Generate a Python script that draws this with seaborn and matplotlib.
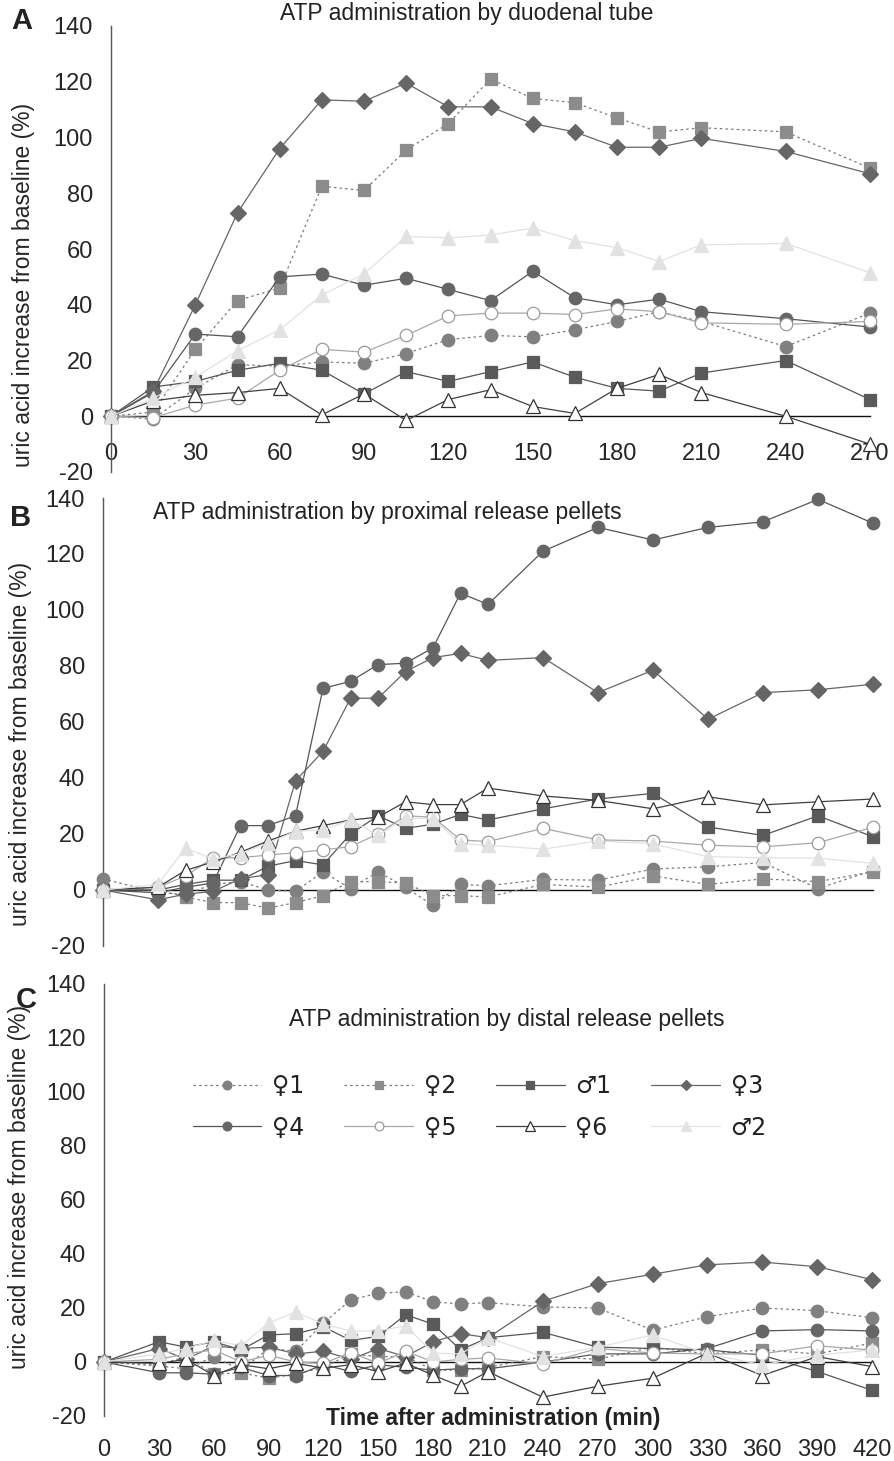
import matplotlib
matplotlib.use("Agg")
import pandas as pd
import matplotlib.pyplot as plt
import seaborn as sns

# time points (min)
T_A = [0, 15, 30, 45, 60, 75, 90, 105, 120, 135, 150, 165, 180, 195, 210, 240, 270]
T_BC = [0, 30, 45, 60, 75, 90, 105, 120, 135, 150, 165, 180, 195, 210, 240, 270,
        300, 330, 360, 390, 420]
X_TICKS_A = list(range(0, 271, 30))
X_TICKS_BC = list(range(0, 421, 30))
Y_TICKS = list(range(-20, 141, 20))

SUBJECTS = ["♀1", "♀2", "♂1", "♀3", "♀4", "♀5", "♀6", "♂2"]

# A: duodenal tube
A_F1 = [0, -1, 10, 18.5, 18, 19.5, 19, 22.5, 27.5, 29, 28.5, 31, 34, 37.5, 34, 25, 37]
A_F2 = [0, 1.5, 24, 41.5, 46, 82.5, 81, 95.5, 105, 121, 114, 112.5, 107, 102, 103.5, 102, 89]
A_M1 = [0, 10.5, 12.5, 16.5, 19, 16.5, 8, 16, 12.5, 16, 19.5, 14, 10, 9, 15.5, 20, 6]
A_F3 = [0, 9, 40, 73, 96, 113.5, 113, 119.5, 111, 111, 105, 102, 96.5, 96.5, 99.7, 95, 87]
A_F4 = [0, 8.5, 29.5, 28.5, 50, 51, 47, 49.5, 45.5, 41.5, 52, 42.5, 40, 42, 37.5, 35, 32]
A_F5 = [0, -0.5, 4, 6.5, 16.5, 24, 23, 29, 36, 37, 37, 36.5, 38.5, 37.5, 33.5, 33, 34]
A_F6 = [0, 5.5, 7.5, 8.5, 10, 0.5, 8, -1.5, 6, 9.5, 3.5, 1, 10, 15, 8.5, 0, -10]
A_M2 = [0, 6.5, 14, 23.5, 31, 43.5, 51, 64.5, 64, 65, 67.5, 63, 60.5, 55.5, 61.5, 62, 51.5]

# B: proximal release pellets
B_F1 = [4, -1, -1.5, 2, 3, 0, -0.5, 6.5, 0.5, 6.5, 1, -5.5, 2, 1.5, 3.8, 3.5, 7.5, 8.3, 9.8, 0.5, 7]
B_F2 = [0, 0, -2.5, -4.5, -4.5, -6.5, -4.5, -2, 3, 3, 2.5, -2, -2, -2.5, 2, 1, 5, 2, 4, 3, 6.5]
B_M1 = [0, 0, 2, 3.5, 3.5, 8.5, 10.5, 9, 20, 26.5, 22, 23.5, 27, 25, 29, 32.5, 34.5, 22.5, 19.5, 26.5, 19]
B_F3 = [0, -3.5, -1.5, -0.5, 4, 5.5, 39, 49.5, 68.5, 68.5, 78, 83, 84.5, 82, 83, 70.5, 78.5, 61, 70.5, 71.5, 73.5]
B_F4 = [0, -1, 1, 2.5, 23, 23, 26.5, 72, 74.5, 80.5, 81, 86.5, 106, 102, 121, 129.5, 125, 129.5, 131.5, 139.5, 131]
B_F5 = [0, 1, 5, 11.5, 11.5, 12.5, 13.3, 14.3, 15.5, 20, 26.5, 26, 17.9, 17.3, 22, 17.9, 17.5, 16, 15.4, 16.9, 22.4]
B_F6 = [0, 1, 7, 10, 13.5, 17.5, 21, 23, 25, 26, 31.5, 30.5, 30.5, 36.4, 33.6, 32, 29, 33.3, 30.4, 31.5, 32.5]
B_M2 = [0, 2, 15, 11, 13, 16.7, 21, 21.4, 25, 19.6, 25.6, 25.5, 16.5, 16, 14.6, 17.5, 16.5, 11.9, 11.5, 11.4, 9.5]

# C: distal release pellets
C_F1 = [0, -1.5, -2.5, 2, -3, 5, 4, 14.5, 23, 25.5, 26, 22.3, 21.5, 22, 20.4, 20, 11.8, 16.8, 20, 19, 16.4]
C_F2 = [0, -1, 2, -4.5, -4, -6, -4.5, -2, 3, 2, 2, -3, -3, -2, 2, 1, 5.5, 3, 4.5, 3, 7]
C_M1 = [0, 7.5, 5.5, 7.5, 4.5, 10, 10.5, 13, 8, 9.5, 17.5, 14, 4.5, 9, 11, 5.5, 5, 4.5, 2.5, -3.5, -10.5]
C_F3 = [0, 5, 1, 6, 5, 5.5, 3, 4, 1, 5, 2, 7.5, 10.5, 9, 22.5, 29, 32.5, 36, 37, 35.3, 30.5]
C_F4 = [0, -4, -4, -4.5, -2, -5, -5, -1, -3.5, -1, -2, -3, -2.5, -2.5, 0, 3, 3, 5, 11.5, 12, 11.5]
C_F5 = [0, 1, 3, 4.5, 0, 2.5, 0, -0.5, 3.5, -0.5, 4, 0, 1, 1.5, -0.7, 5, 3.3, 3, 3, 6, 4.4]
C_F6 = [0, -0.5, 1, -5, -1, -2.5, -0.5, -2.3, -1, -3.6, -0.4, -4.9, -9, -3.6, -13, -9, -6, 3.3, -5, 2, -1.7]
C_M2 = [0, 3, 5, 8, 6, 14.5, 18.5, 14, 11.5, 11.5, 13.4, 3.3, 3, 9, 2, 5.5, 10, 3, -1, 2.5, 4.5]

DOT = (0, (2, 2.5))
STYLE = {
    "♀1": dict(color="#7a7a7a", linestyle=DOT, marker="o", markersize=9,
               markerfacecolor="#808080", markeredgecolor="#808080"),
    "♀2": dict(color="#7a7a7a", linestyle=DOT, marker="s", markersize=8.5,
               markerfacecolor="#8c8c8c", markeredgecolor="#8c8c8c"),
    "♂1": dict(color="#555555", linestyle="-", marker="s", markersize=8.5,
               markerfacecolor="#5a5a5a", markeredgecolor="#5a5a5a"),
    "♀3": dict(color="#666666", linestyle="-", marker="D", markersize=8,
               markerfacecolor="#666666", markeredgecolor="#666666"),
    "♀4": dict(color="#555555", linestyle="-", marker="o", markersize=9,
               markerfacecolor="#666666", markeredgecolor="#666666"),
    "♀5": dict(color="#a8a8a8", linestyle="-", marker="o", markersize=9,
               markerfacecolor="white", markeredgecolor="#9a9a9a"),
    "♀6": dict(color="#404040", linestyle="-", marker="^", markersize=9.5,
               markerfacecolor="white", markeredgecolor="#333333"),
    "♂2": dict(color="#e2e2e2", linestyle="-", marker="^", markersize=9.5,
               markerfacecolor="#e2e2e2", markeredgecolor="#e2e2e2"),
}

PANELS = [
    ("A", "ATP administration by duodenal tube", T_A, X_TICKS_A,
     [A_F1, A_F2, A_M1, A_F3, A_F4, A_F5, A_F6, A_M2]),
    ("B", "ATP administration by proximal release pellets", T_BC, X_TICKS_BC,
     [B_F1, B_F2, B_M1, B_F3, B_F4, B_F5, B_F6, B_M2]),
    ("C", "ATP administration by distal release pellets", T_BC, X_TICKS_BC,
     [C_F1, C_F2, C_M1, C_F3, C_F4, C_F5, C_F6, C_M2]),
]

# axes boxes in figure pixels: left, right, top (y=140), bottom (y=-20)
BOXES = {"A": (111, 870, 26, 472), "B": (103, 873, 498, 946), "C": (104, 872, 984, 1416)}
TITLE_POS = {"A": (0.469, 1.029), "B": (0.369, 0.967), "C": (0.525, 0.917)}
YLAB_POS = {"A": (-0.100, 0.42), "B": (-0.092, 0.45), "C": (-0.095, 0.53)}
LETTER_POS = {"A": (22, 21), "B": (21, 518), "C": (26, 1000)}

sns.set_style("white")
FONT = ["Liberation Sans", "DejaVu Sans"]
plt.rcParams["font.family"] = FONT
plt.rcParams["text.color"] = "#222222"
plt.rcParams["axes.unicode_minus"] = False

W, H = 895, 1461
fig = plt.figure(figsize=(W / 100, H / 100), dpi=100)

handles = {}
for key, title, times, xticks, series in PANELS:
    l, r, t, b = BOXES[key]
    ax = fig.add_axes([l / W, 1 - b / H, (r - l) / W, (b - t) / H])
    rows = []
    for name, vals in zip(SUBJECTS, series):
        rows.append(pd.DataFrame({"time": times, "value": vals, "subject": name}))
    df = pd.concat(rows, ignore_index=True)

    for name in SUBJECTS:
        sub = df[df["subject"] == name]
        sns.lineplot(data=sub, x="time", y="value", ax=ax, estimator=None,
                     sort=False, legend=False, linewidth=0.9,
                     markeredgewidth=0.9, clip_on=False, zorder=3,
                     label=name, **STYLE[name])
        handles[name] = ax.lines[-1]

    ax.set_xlim(0, times[-1])
    ax.set_ylim(-20, 140)
    ax.set_xticks(xticks)
    ax.set_yticks(Y_TICKS)
    ax.set_xlabel("")
    ax.set_ylabel("uric acid increase from baseline (%)", fontsize=16.5)
    ax.yaxis.set_label_coords(*YLAB_POS[key])

    for s in ["top", "right"]:
        ax.spines[s].set_visible(False)
    ax.spines["bottom"].set_position(("data", 0))
    ax.spines["bottom"].set_color("#111111")
    ax.spines["bottom"].set_linewidth(1.0)
    ax.spines["left"].set_color("#555555")
    ax.spines["left"].set_linewidth(1.0)
    ax.spines["bottom"].set_zorder(2)

    ax.tick_params(axis="y", direction="out", length=5.5, width=1.0,
                   color="#555555", labelsize=17, pad=7.5)
    xpad = {"A": 14, "B": 5, "C": 50}[key]
    ax.tick_params(axis="x", direction="out", length=5.5, width=1.0,
                   color="#111111", labelsize=17, pad=xpad,
                   labelbottom=(key != "B"))

    ax.text(*TITLE_POS[key], title, transform=ax.transAxes, ha="center",
            va="center", fontsize=16.5)
    fig.text(LETTER_POS[key][0] / W, 1 - LETTER_POS[key][1] / H, key,
             fontsize=21, fontweight="bold", ha="center", va="center")

    if key == "C":
        ax.text(0.507, -0.005, "Time after administration (min)",
                transform=ax.transAxes, ha="center", va="center",
                fontsize=16.5, fontweight="bold")
        order = ["♀1", "♀4", "♀2", "♀5", "♂1", "♀6", "♀3", "♂2"]
        fig.legend([handles[n] for n in order], order, ncol=4,
                   loc="upper left", bbox_to_anchor=(193 / W, 1 - 1074 / H),
                   frameon=False, prop={"family": ["DejaVu Sans"], "size": 17},
                   handlelength=2.9, handletextpad=0.45, columnspacing=1.7,
                   labelspacing=0.75, borderpad=0, borderaxespad=0,
                   markerscale=0.7)

fig.savefig("out.png", dpi=100)
